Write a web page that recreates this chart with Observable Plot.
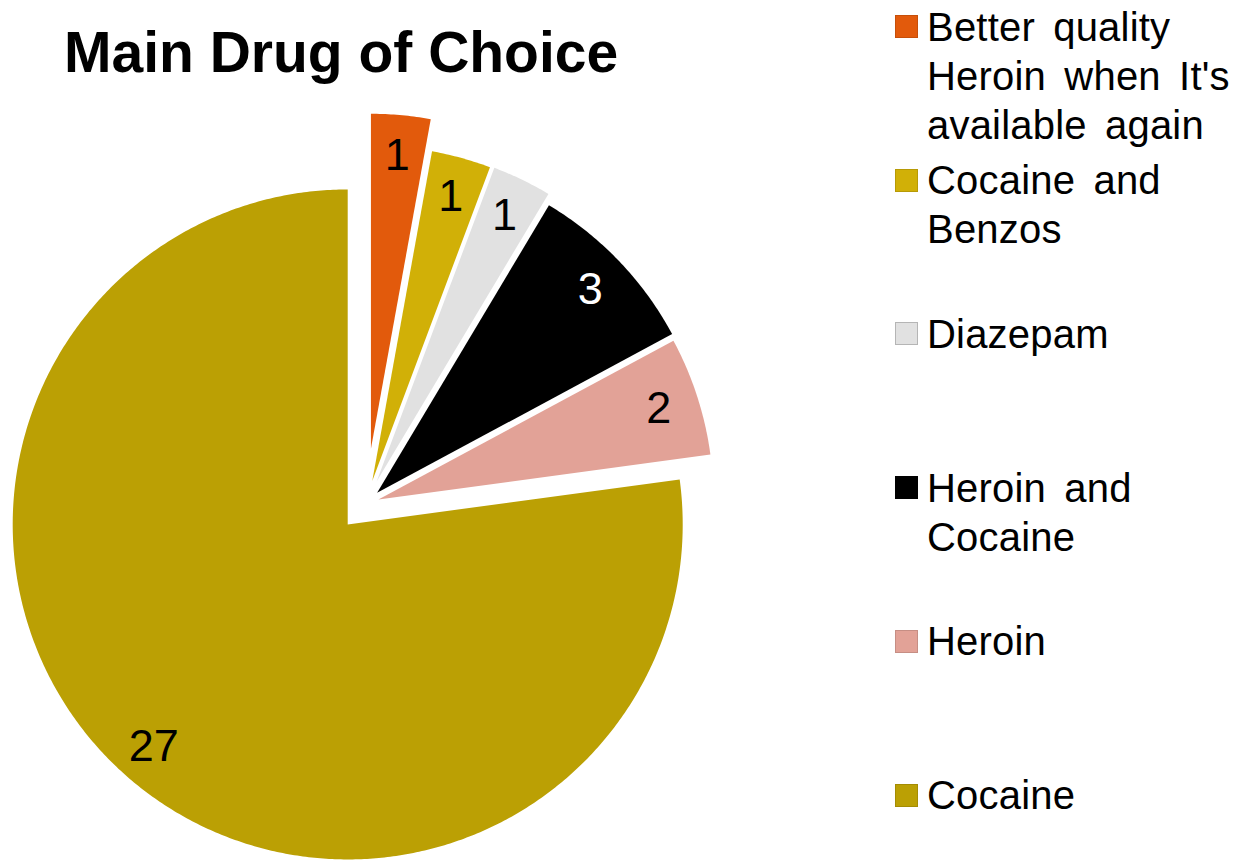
<!DOCTYPE html>
<html>
<head>
<meta charset="utf-8">
<script src="https://cdn.jsdelivr.net/npm/d3@7"></script>
<script src="https://cdn.jsdelivr.net/npm/@observablehq/plot@0.6"></script>
<style>
html, body { margin: 0; padding: 0; background: #ffffff; }
#page { position: relative; width: 1233px; height: 860px; overflow: hidden; font-family: "Liberation Sans", Arial, sans-serif; color: #000; }
#title { position: absolute; left: 64px; top: 24px; font-size: 57px; font-weight: bold; line-height: 57px; white-space: nowrap; }
#chart { position: absolute; left: 0; top: 100px; }
.entry { position: absolute; left: 895px; width: 338px; }
.sw { position: absolute; left: 0; width: 23px; height: 23px; box-sizing: border-box; border: 1px solid rgba(0,0,0,0.12); }
.lab { position: absolute; left: 32px; width: 306px; font-size: 40px; line-height: 49px; word-spacing: 7px; letter-spacing: 0.2px; }
</style>
</head>
<body>
<div id="page">
  <div id="title">Main Drug of Choice</div>
  <div id="chart"></div>
  <div id="legend"></div>
</div>
<script>
// ---- data ----
const categories = [
  "Better quality Heroin when It's available again",
  "Cocaine and Benzos",
  "Diazepam",
  "Heroin and Cocaine",
  "Heroin",
  "Cocaine"
];
const counts = [1, 1, 1, 3, 2, 27];

// ---- styles ----
const colors = ["#E25A0C", "#D1B007", "#E1E1E1", "#000000", "#E2A297", "#BBA004"];
const explode = [0.164, 0.070, 0.073, 0.046, 0.039, 0.083]; // fraction of radius
const labelRadius = 0.88;

// ---- layout ----
const W = 880, H = 760;
const R = 335;              // pie radius in px
const cx = 365.5, cy = 403; // pie centre inside the svg

const total = d3.sum(counts);
const polys = [];
const labels = [];
let cum = 0;
categories.forEach((name, i) => {
  const a0 = cum / total * 2 * Math.PI;
  const a1 = (cum + counts[i]) / total * 2 * Math.PI;
  cum += counts[i];
  const mid = (a0 + a1) / 2;
  const ox = explode[i] * Math.sin(mid), oy = explode[i] * Math.cos(mid);
  const n = Math.max(2, Math.ceil((a1 - a0) / (Math.PI / 360)));
  polys.push({name, x: ox, y: oy});
  for (let k = 0; k <= n; k++) {
    const a = a0 + (a1 - a0) * k / n;
    polys.push({name, x: ox + Math.sin(a), y: oy + Math.cos(a)});
  }
  polys.push({name, x: ox, y: oy});
  labels.push({name, value: counts[i], dark: colors[i] === "#000000",
    x: ox + labelRadius * Math.sin(mid), y: oy + labelRadius * Math.cos(mid)});
});

const font = "Liberation Sans, Arial, sans-serif";
const chart = Plot.plot({
  width: W,
  height: H,
  margin: 0,
  x: {domain: [-cx / R, (W - cx) / R], axis: null},
  y: {domain: [-(H - cy) / R, cy / R], axis: null},
  color: {domain: categories, range: colors},
  style: {fontFamily: font, background: "transparent", overflow: "visible"},
  marks: [
    Plot.line(polys, {x: "x", y: "y", z: "name", fill: "name", stroke: "none", curve: "linear"}),
    Plot.text(labels, {filter: d => !d.dark, x: "x", y: "y", text: d => String(d.value),
      fill: "#000", fontSize: 45, fontFamily: font}),
    Plot.text(labels, {filter: d => d.dark, x: "x", y: "y", text: d => String(d.value),
      fill: "#fff", fontSize: 45, fontFamily: font})
  ]
});
document.getElementById("chart").appendChild(chart);

// ---- legend ----
const legend = document.getElementById("legend");
const firstCentre = 26.5, step = 153.7;
categories.forEach((name, i) => {
  const c = firstCentre + step * i;
  const e = document.createElement("div");
  e.className = "entry";
  e.style.top = (c - 24) + "px";
  const sw = document.createElement("div");
  sw.className = "sw";
  sw.style.top = "12.5px";
  sw.style.background = colors[i];
  if (colors[i] === "#E1E1E1") sw.style.borderColor = "#b5b5b5";
  const lab = document.createElement("div");
  lab.className = "lab";
  lab.style.top = "0px";
  lab.textContent = name;
  e.appendChild(sw);
  e.appendChild(lab);
  legend.appendChild(e);
});
</script>
</body>
</html>
